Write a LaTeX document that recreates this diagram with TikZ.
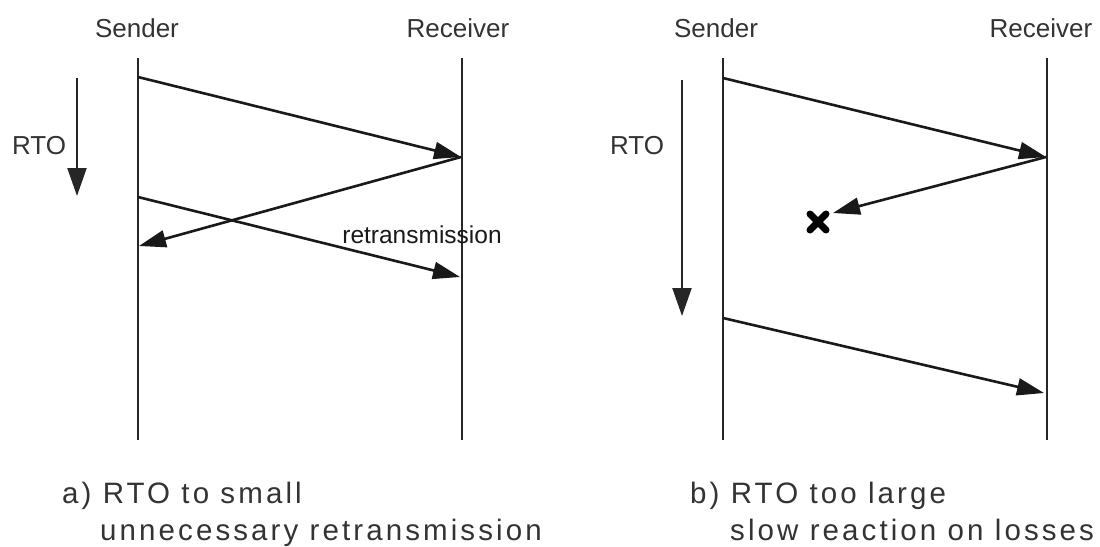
\documentclass[tikz,border=0pt]{standalone}
\usepackage{fontspec}
\setmainfont{Liberation Sans}
\newfontfamily\capfont[LetterSpace=10.5]{Liberation Sans}
\usetikzlibrary{arrows.meta}
\begin{document}
\begin{tikzpicture}[x=1pt,y=-1pt,
  lifeline/.style={line width=2.2pt, draw=black!85},
  msg/.style={line width=2.6pt, draw=black!90, -{Triangle[length=27pt,width=17pt]}},
  timer/.style={line width=2.2pt, draw=black!85, -{Triangle[length=28pt,width=19pt]}},
  lbl/.style={inner sep=0pt, text=black!80, font=\fontsize{26}{30}\selectfont},
  small/.style={inner sep=0pt, text=black!90, font=\fontsize{24.5}{28}\selectfont},
  captext/.style={inner sep=0pt, anchor=base west, text=black!80, font=\capfont\fontsize{29.5}{34}\selectfont},
  lost/.style={line width=7pt, draw=black, line cap=round}]
\useasboundingbox (0,0) rectangle (1100,546);

% ---- a) RTO too small ----
\coordinate (sAtop) at (138,58);  \coordinate (sAbot) at (138,440);
\coordinate (rAtop) at (462,58);  \coordinate (rAbot) at (462,440);
\node[lbl, anchor=base] (sA) at (137,37) {Sender};
\node[lbl, anchor=base] (rA) at (458,37) {Receiver};
\draw[lifeline] (sAtop) -- (sAbot);
\draw[lifeline] (rAtop) -- (rAbot);

\coordinate (a1s) at (138,77);   \coordinate (a1r) at (461,157);
\coordinate (a2s) at (139,246);
\coordinate (a3s) at (138,197);  \coordinate (a3r) at (460,277);
\draw[msg] (a1s) -- (a1r);
\draw[msg] (a1r) -- (a2s);
\draw[msg] (a3s) -- (a3r);
\node[small, anchor=base] (retx) at (422,243) {retransmission};

\coordinate (rtoAs) at (77,78);  \coordinate (rtoAe) at (77,196);
\draw[timer] (rtoAs) -- (rtoAe);
\node[lbl, anchor=base] (rtoA) at (39,154) {RTO};

\node[captext] (capA1) at (62,503) {a) RTO to small};
\node[captext] (capA2) at (100,540) {unnecessary retransmission};

% ---- b) RTO too large ----
\coordinate (sBtop) at (723,58);  \coordinate (sBbot) at (723,440);
\coordinate (rBtop) at (1047,58); \coordinate (rBbot) at (1047,440);
\node[lbl, anchor=base] (sB) at (716,37) {Sender};
\node[lbl, anchor=base] (rB) at (1041,37) {Receiver};
\draw[lifeline] (sBtop) -- (sBbot);
\draw[lifeline] (rBtop) -- (rBbot);

\coordinate (b1s) at (723,78);   \coordinate (b1r) at (1046,157);
\coordinate (b2e) at (833,213);
\coordinate (b3s) at (723,318);  \coordinate (b3r) at (1044,393);
\draw[msg] (b1s) -- (b1r);
\draw[msg] (b1r) -- (b2e);
\draw[msg] (b3s) -- (b3r);

% lost acknowledgement
\coordinate (loss) at (818,222);
\draw[lost] ([shift={(-8,-8)}]loss) -- ([shift={(8,8)}]loss);
\draw[lost] ([shift={(-8,8)}]loss) -- ([shift={(8,-8)}]loss);

\coordinate (rtoBs) at (682,80); \coordinate (rtoBe) at (682,316);
\draw[timer] (rtoBs) -- (rtoBe);
\node[lbl, anchor=base] (rtoB) at (637,154) {RTO};

\node[captext] (capB1) at (690,503) {b) RTO too large};
\node[captext] (capB2) at (730,540) {slow reaction on losses};
\end{tikzpicture}
\end{document}
